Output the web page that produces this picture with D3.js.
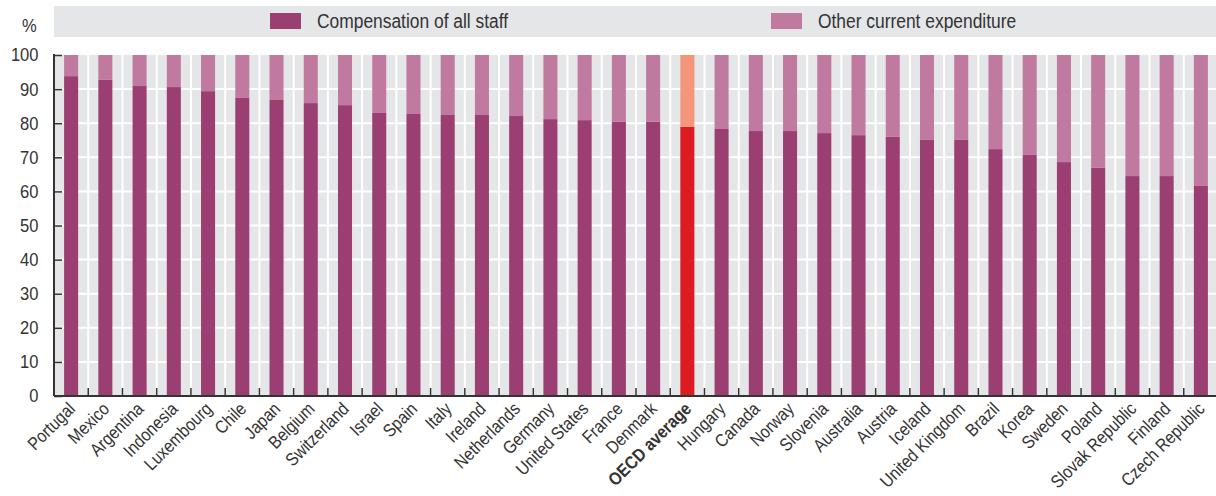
<!DOCTYPE html>
<html><head><meta charset="utf-8">
<script src="https://cdn.jsdelivr.net/npm/d3@7"></script>
<style>
body{margin:0;background:#fff;}
text{font-family:"Liberation Sans",Arial,Helvetica,sans-serif;fill:#333;}
</style></head>
<body><svg id="c" width="1216" height="496"></svg>
<script>
const countries = ["Portugal","Mexico","Argentina","Indonesia","Luxembourg","Chile","Japan","Belgium","Switzerland","Israel","Spain","Italy","Ireland","Netherlands","Germany","United States","France","Denmark","OECD average","Hungary","Canada","Norway","Slovenia","Australia","Austria","Iceland","United Kingdom","Brazil","Korea","Sweden","Poland","Slovak Republic","Finland","Czech Republic"];
const compensation = [93.8,92.7,90.9,90.6,89.4,87.4,86.8,85.9,85.3,83.0,82.7,82.4,82.4,82.1,81.2,80.9,80.4,80.4,78.9,78.3,77.7,77.7,77.1,76.5,76.0,75.1,75.1,72.4,70.7,68.6,66.9,64.5,64.5,61.6];
const otherCurrent = [6.2,7.3,9.1,9.4,10.6,12.6,13.2,14.1,14.7,17.0,17.3,17.6,17.6,17.9,18.8,19.1,19.6,19.6,21.1,21.7,22.3,22.3,22.9,23.5,24.0,24.9,24.9,27.6,29.3,31.4,33.1,35.5,35.5,38.4];
const yTicks = [0,10,20,30,40,50,60,70,80,90,100];
const seriesNames = ["Compensation of all staff","Other current expenditure"];
const highlight = "OECD average";

const colors = {comp:"#9b3f73", other:"#c07aa0", hComp:"#dc1c22", hOther:"#f4967a", bg:"#e5e6e8"};
const SX = 0.87; // condensed look
const svg = d3.select("#c");
const L=54, R=1218, T=55, B=396;
const x = d3.scaleBand().domain(countries).range([L,R]).paddingInner(0.59).paddingOuter(0.295);
const y = d3.scaleLinear().domain([0,100]).range([B,T]);
const step = x.step();

// legend
svg.append("rect").attr("x",54).attr("y",6).attr("width",1162).attr("height",31).attr("fill",colors.bg);
const lg = [{n:seriesNames[0],c:colors.comp,x:270},{n:seriesNames[1],c:colors.other,x:771}];
lg.forEach(d=>{
  svg.append("rect").attr("x",d.x).attr("y",13).attr("width",31).attr("height",16).attr("fill",d.c);
  svg.append("text").attr("transform",`translate(${d.x+47},27.5) scale(${SX},1)`).attr("font-size",20).text(d.n);
});

// plot bg
svg.append("rect").attr("x",L).attr("y",T).attr("width",1216-L).attr("height",B-T).attr("fill",colors.bg);
// grid
svg.append("g").selectAll("line").data(yTicks.filter(d=>d>0&&d<100)).join("line")
  .attr("x1",L).attr("x2",1216).attr("y1",d=>y(d)).attr("y2",d=>y(d)).attr("stroke","#fff").attr("stroke-width",2);
svg.append("g").selectAll("line").data(d3.range(1,countries.length)).join("line")
  .attr("x1",i=>L+i*step).attr("x2",i=>L+i*step).attr("y1",T).attr("y2",B).attr("stroke","#fff").attr("stroke-width",2);

// bars
const g = svg.append("g");
countries.forEach((c,i)=>{
  const h = c===highlight;
  g.append("rect").attr("x",x(c)).attr("width",x.bandwidth()).attr("y",y(compensation[i])).attr("height",y(0)-y(compensation[i])).attr("fill",h?colors.hComp:colors.comp);
  g.append("rect").attr("x",x(c)).attr("width",x.bandwidth()).attr("y",y(compensation[i]+otherCurrent[i])).attr("height",y(compensation[i])-y(compensation[i]+otherCurrent[i])).attr("fill",h?colors.hOther:colors.other);
});

// y axis
const ya = svg.append("g").attr("transform",`translate(${L},0)`).call(d3.axisRight(y).tickValues(yTicks).tickSize(8).tickFormat(""));
ya.select(".domain").remove();
ya.selectAll("line").attr("stroke","#333").attr("stroke-width",1.5);
svg.append("line").attr("x1",L).attr("x2",L).attr("y1",T-1).attr("y2",B).attr("stroke","#333").attr("stroke-width",2);
svg.append("g").selectAll("text").data(yTicks).join("text")
  .attr("transform",d=>`translate(38.5,${y(d)}) scale(${SX+0.05},1)`).attr("dy","0.36em").attr("text-anchor","end").attr("font-size",18).text(d=>d);
svg.append("text").attr("transform",`translate(22,32) scale(${SX},1)`).attr("font-size",19).text("%");

// x axis
svg.append("line").attr("x1",L).attr("x2",1216).attr("y1",B).attr("y2",B).attr("stroke","#333").attr("stroke-width",2);
svg.append("g").selectAll("line").data(d3.range(1,countries.length)).join("line")
  .attr("x1",i=>L+i*step).attr("x2",i=>L+i*step).attr("y1",B-8).attr("y2",B).attr("stroke","#333").attr("stroke-width",1.5);
svg.append("g").selectAll("text").data(countries).join("text")
  .attr("transform",d=>`translate(${x(d)+x.bandwidth()/2+5},${B+14}) rotate(-45) scale(${SX},1)`)
  .attr("text-anchor","end").attr("font-size",18)
  .attr("font-weight",d=>d===highlight?"bold":"normal").attr("fill",d=>d===highlight?"#222":"#333")
  .text(d=>d);
</script></body></html>
